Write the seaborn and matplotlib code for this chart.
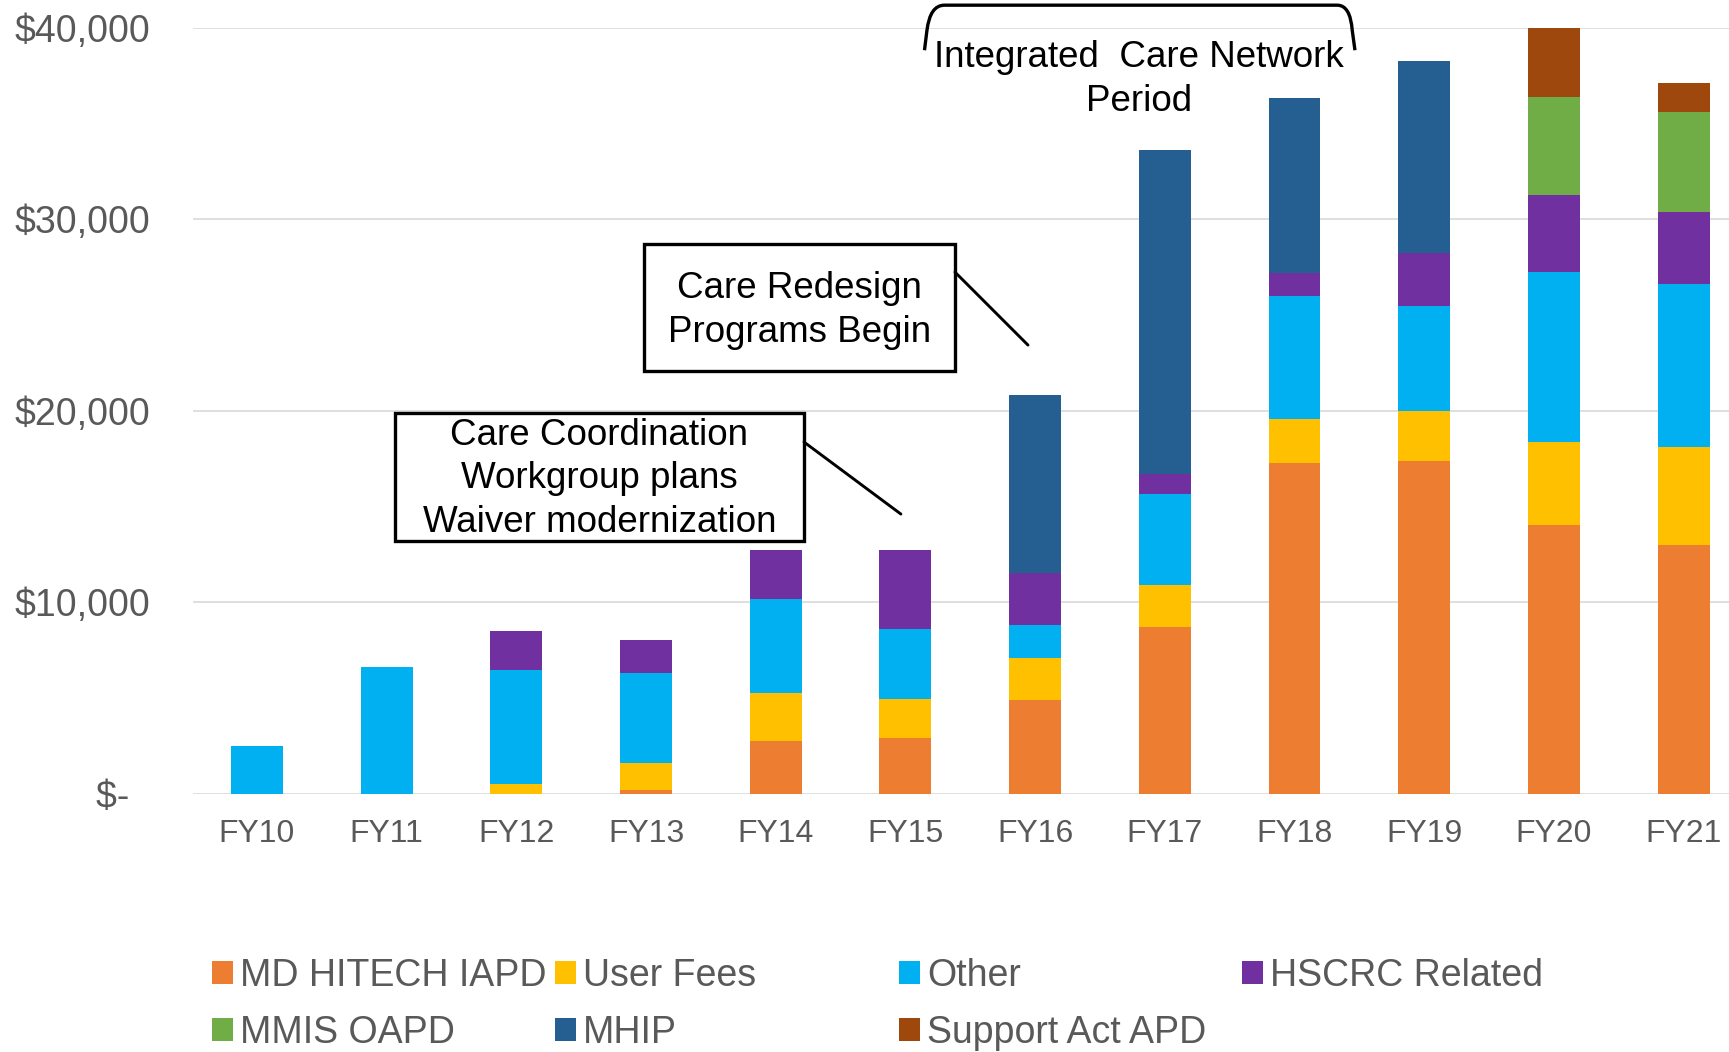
import pandas as pd
import matplotlib.pyplot as plt
import seaborn as sns
from matplotlib.patches import Patch, Rectangle, PathPatch
from matplotlib.path import Path
from matplotlib.ticker import FuncFormatter

# ---- data (thousands of dollars) ----
years = ["FY10", "FY11", "FY12", "FY13", "FY14", "FY15",
         "FY16", "FY17", "FY18", "FY19", "FY20", "FY21"]
md_hitech = [0, 0, 0, 210, 2760, 2940, 4910, 8690, 17290, 17360, 14020, 13010]
user_fees = [0, 0, 520, 1420, 2520, 2010, 2170, 2240, 2270, 2630, 4350, 5110]
other = [2520, 6610, 5950, 4660, 4910, 3650, 1750, 4720, 6410, 5490, 8900, 8500]
hscrc = [0, 0, 2030, 1770, 2570, 4160, 2690, 1030, 1240, 2730, 4000, 3770]
mmis_oapd = [0, 0, 0, 0, 0, 0, 0, 0, 0, 0, 5120, 5190]
mhip = [0, 0, 0, 0, 0, 0, 9330, 16940, 9090, 10060, 0, 0]
support_act = [0, 0, 0, 0, 0, 0, 0, 0, 0, 0, 3610, 1540]

series_names = ["MD HITECH IAPD", "User Fees", "Other", "HSCRC Related",
                "MMIS OAPD", "MHIP", "Support Act APD"]
series_colors = ["#ED7D31", "#FFC000", "#00B0F0", "#7030A0",
                 "#70AD47", "#255E91", "#9E480E"]

df = pd.DataFrame({"Year": years})
for name, vals in zip(series_names, [md_hitech, user_fees, other, hscrc,
                                     mmis_oapd, mhip, support_act]):
    df[name] = vals
cum = df[series_names].cumsum(axis=1)

sns.set_style("white")
plt.rcParams["font.family"] = ["Liberation Sans", "DejaVu Sans"]
GREY = "#595959"

fig = plt.figure(figsize=(17.29, 10.52), dpi=100)
ax = fig.add_axes([193 / 1729, 1 - 794 / 1052, (1729 - 193) / 1729, (794 - 27.6) / 1052])

# stacked bars: draw cumulative totals from the top series down
for name, color in reversed(list(zip(series_names, series_colors))):
    sns.barplot(x=df["Year"], y=cum[name], color=color, saturation=1,
                width=0.4, errorbar=None, linewidth=0, ax=ax, order=years)

ax.set_xlim(-0.493, 11.35)
ax.set_ylim(0, 40000)
ax.set_yticks([0, 10000, 20000, 30000, 40000])
ax.yaxis.set_major_formatter(FuncFormatter(lambda v, p: "$-  " if v == 0 else f"${v:,.0f}"))
ax.set_xlabel("")
ax.set_ylabel("")
ax.grid(axis="y", color="#D9D9D9", linewidth=1.2)
ax.grid(axis="x", visible=False)
ax.set_axisbelow(True)
for s in ax.spines.values():
    s.set_visible(False)
ax.tick_params(axis="y", labelsize=27, labelcolor=GREY, length=0, pad=31)
ax.tick_params(axis="x", labelsize=23, labelcolor=GREY, length=0, pad=18)

# ---- annotations ----
txt = dict(fontsize=26.5, color="black", ha="center", va="center",
           linespacing=1.32, clip_on=False, zorder=6)
ax.add_patch(Rectangle((1.064, 13200), 4.218 - 1.064, 19880 - 13200, fill=True,
                       facecolor="white", edgecolor="black", linewidth=2.4,
                       clip_on=False, zorder=5))
ax.text(2.64, 16450, "Care Coordination\nWorkgroup plans\nWaiver modernization", **txt)
ax.plot([4.218, 4.965], [18370, 14610], color="black", lw=2.1, clip_on=False, zorder=5)

ax.add_patch(Rectangle((2.984, 22070), 5.382 - 2.984, 28700 - 22070, fill=True,
                       facecolor="white", edgecolor="black", linewidth=2.4,
                       clip_on=False, zorder=5))
ax.text(4.183, 25250, "Care Redesign\nPrograms Begin", **txt)
ax.plot([5.382, 5.945], [27240, 23430], color="black", lw=2.1, clip_on=False, zorder=5)

# bracket for the Integrated Care Network period
verts = [(5.147, 38820), (5.166, 39860), (5.19, 41170), (5.30, 41170),
         (8.33, 41170), (8.43, 41170), (8.445, 39860), (8.466, 38820)]
codes = [Path.MOVETO, Path.LINETO, Path.CURVE3, Path.CURVE3,
         Path.LINETO, Path.CURVE3, Path.CURVE3, Path.LINETO]
ax.add_patch(PathPatch(Path(verts, codes), fill=False, edgecolor="black",
                       linewidth=2.4, clip_on=False, zorder=5))
ax.text(6.80, 37300, "Integrated  Care Network\nPeriod", **txt)

# ---- legend (row-major, fixed column positions like the original) ----
legend_x = [212, 555, 899, 1242, 212, 555, 899]
legend_y = [976, 976, 976, 976, 1033, 1033, 1033]
for name, color, lx, ly in zip(series_names, series_colors, legend_x, legend_y):
    leg = fig.legend(handles=[Patch(facecolor=color, edgecolor="none")], labels=[name],
                     loc="center left", bbox_to_anchor=(lx / 1729, 1 - ly / 1052),
                     frameon=False, fontsize=27, handlelength=0.55, handleheight=0.55,
                     handletextpad=0.2, borderpad=0, borderaxespad=0)
    for t in leg.get_texts():
        t.set_color(GREY)

fig.savefig("out.png", dpi=100)
